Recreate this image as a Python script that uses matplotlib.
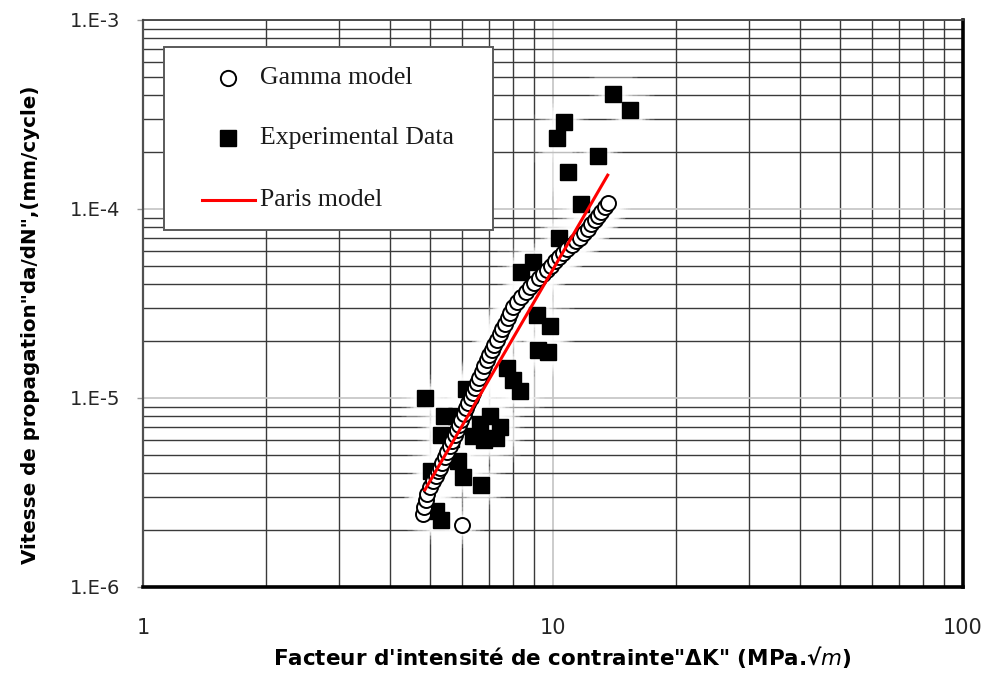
import numpy as np
import matplotlib
matplotlib.use("Agg")
import matplotlib.pyplot as plt
from matplotlib.ticker import LogLocator, NullFormatter
from matplotlib.patches import Rectangle

# Gamma model (open circles)
gamma_dk = [6.00, 4.82, 4.86, 4.90, 4.94, 5.01, 5.10, 5.18, 5.24, 5.30, 5.36, 5.45, 5.52,
            5.61, 5.67, 5.77, 5.83, 5.90, 5.97, 6.07, 6.14, 6.20, 6.31, 6.38, 6.45,
            6.53, 6.60, 6.71, 6.79, 6.90, 6.98, 7.10, 7.18, 7.30, 7.42, 7.51, 7.64,
            7.77, 7.85, 7.99, 8.17, 8.36, 8.59, 8.79, 8.99, 9.25, 9.45, 9.67, 9.89,
            10.11, 10.34, 10.58, 10.82, 11.12, 11.38, 11.64, 11.90, 12.17, 12.38,
            12.66, 12.88, 13.10, 13.39, 13.62]
gamma_dadn = [2.13e-6, 2.43e-6, 2.65e-6, 2.89e-6, 3.11e-6, 3.38e-6, 3.64e-6, 3.87e-6, 4.11e-6,
              4.26e-6, 4.53e-6, 4.87e-6, 5.18e-6, 5.57e-6, 5.92e-6, 6.37e-6, 6.77e-6,
              7.20e-6, 7.65e-6, 8.23e-6, 8.85e-6, 9.41e-6, 1.00e-5, 1.06e-5, 1.13e-5,
              1.20e-5, 1.28e-5, 1.37e-5, 1.48e-5, 1.59e-5, 1.69e-5, 1.80e-5, 1.91e-5,
              2.03e-5, 2.18e-5, 2.32e-5, 2.46e-5, 2.65e-5, 2.82e-5, 3.03e-5, 3.22e-5,
              3.42e-5, 3.64e-5, 3.87e-5, 4.06e-5, 4.31e-5, 4.53e-5, 4.76e-5, 4.99e-5,
              5.31e-5, 5.57e-5, 5.85e-5, 6.14e-5, 6.45e-5, 6.77e-5, 7.02e-5, 7.46e-5,
              7.84e-5, 8.33e-5, 8.74e-5, 9.18e-5, 9.64e-5, 1.03e-4, 1.08e-4]

# Experimental data (black squares)
exp_dk = [14.0, 15.4, 10.64, 10.23, 12.88, 10.88, 11.70, 10.34, 8.94, 8.36,
          9.14, 9.83, 9.19, 9.72, 7.72, 7.99, 8.31, 4.87, 6.14, 5.42,
          5.80, 7.02, 7.42, 7.26, 6.79, 5.33, 5.64, 5.04, 5.87, 6.03,
          6.67, 5.18, 5.33, 6.38, 6.64]
exp_dadn = [4.06e-4, 3.34e-4, 2.89e-4, 2.37e-4, 1.91e-4, 1.57e-4, 1.06e-4, 7.02e-5, 5.24e-5, 4.64e-5,
            2.75e-5, 2.40e-5, 1.80e-5, 1.75e-5, 1.44e-5, 1.25e-5, 1.09e-5, 1.00e-5, 1.12e-5, 8.03e-6,
            8.03e-6, 8.03e-6, 7.02e-6, 6.14e-6, 6.00e-6, 6.37e-6, 6.07e-6, 4.11e-6, 4.64e-6, 3.82e-6,
            3.47e-6, 2.52e-6, 2.26e-6, 6.29e-6, 7.29e-6]

# Paris model (straight line in log-log)
paris_dk = [4.87, 13.6]
paris_dadn = [3.26e-6, 1.51e-4]

x_ticks = [1, 10, 100]
x_tick_labels = ["1", "10", "100"]
y_ticks = [1e-6, 1e-5, 1e-4, 1e-3]
y_tick_labels = ["1.E-6", "1.E-5", "1.E-4", "1.E-3"]

legend_labels = ["Gamma model", "Experimental Data", "Paris model"]

fig = plt.figure(figsize=(9.86, 6.75), dpi=100)
ax = fig.add_axes([0.145, 0.1304, 0.8316, 0.84])
ax.set_xscale("log")
ax.set_yscale("log")

# grid: dark minor lines, light major lines
ax.set_axisbelow(True)
ax.xaxis.set_minor_locator(LogLocator(base=10, subs=np.arange(2, 10)))
ax.yaxis.set_minor_locator(LogLocator(base=10, subs=np.arange(2, 10)))
ax.xaxis.set_minor_formatter(NullFormatter())
ax.yaxis.set_minor_formatter(NullFormatter())
ax.grid(which="minor", color="#3a3a3a", lw=1.0)
ax.grid(which="major", color="#c4c4c4", lw=1.2)


def glow(x, y, marker, ms):
    # soft white halo round the markers
    for extra, a in [(22, 0.15), (16, 0.25), (10, 0.4), (5, 0.6)]:
        ax.plot(x, y, ls="none", marker=marker, ms=ms + extra, mfc="white",
                mec="none", alpha=a, zorder=2)


glow(exp_dk, exp_dadn, "s", 12)
glow(gamma_dk, gamma_dadn, "o", 10.5)

ax.plot(exp_dk, exp_dadn, ls="none", marker="s", ms=12, mfc="black", mec="black", zorder=3)
ax.plot(gamma_dk, gamma_dadn, ls="none", marker="o", ms=10.8, mfc="white", mec="black",
        mew=1.4, zorder=4)
ax.plot(paris_dk, paris_dadn, color="#ff0000", lw=2.2, zorder=5)

ax.set_xlim(1, 100)
ax.set_ylim(1e-6, 1e-3)
ax.set_xticks(x_ticks, x_tick_labels)
ax.set_yticks(y_ticks, y_tick_labels)
ax.tick_params(axis="y", which="major", length=4.5, width=1, color="#9a9a9a", pad=12,
               labelsize=14, labelcolor="#262626")
ax.tick_params(axis="x", which="major", length=0, pad=22, labelsize=15, labelcolor="#262626")
ax.tick_params(which="minor", length=0)

for side, lw, col in [("bottom", 2.6, "black"), ("right", 2.6, "black"),
                      ("top", 1.3, "#404040"), ("left", 1.6, "#505050")]:
    ax.spines[side].set_linewidth(lw)
    ax.spines[side].set_color(col)

ax.set_xlabel("Facteur d'intensité de contrainte\"ΔK\" (MPa.√$m$)", fontsize=15.5,
              fontweight="bold")
ax.set_ylabel("Vitesse de propagation\"da/dN\",(mm/cycle)", fontsize=14.3, fontweight="bold")
ax.xaxis.set_label_coords(0.511, -0.1)
ax.yaxis.set_label_coords(-0.125, 0.462)

# legend box drawn by hand (wide side padding like the original)
ax.add_patch(Rectangle((0.0256, 0.6296), 0.4012, 0.3228, transform=ax.transAxes,
                       facecolor="white", edgecolor="#5a5a5a", lw=1.4, zorder=6))
rows = [0.8977, 0.7919, 0.6825]
ax.plot([0.1037], [rows[0]], transform=ax.transAxes, marker="o", ms=11, mfc="white",
        mec="black", mew=1.4, zorder=7, clip_on=False)
ax.plot([0.1037], [rows[1]], transform=ax.transAxes, marker="s", ms=12, mfc="black",
        mec="black", zorder=7, clip_on=False)
ax.plot([0.072, 0.1366], [rows[2], rows[2]], transform=ax.transAxes, color="#ff0000",
        lw=2.2, zorder=7, clip_on=False)
for yy, lab in zip(rows, legend_labels):
    ax.text(0.1427, yy, lab, transform=ax.transAxes, va="center", ha="left",
            fontsize=18.5, family="Liberation Serif", color="#1a1a1a", zorder=8)

fig.savefig("out.png", dpi=100, facecolor="white")
